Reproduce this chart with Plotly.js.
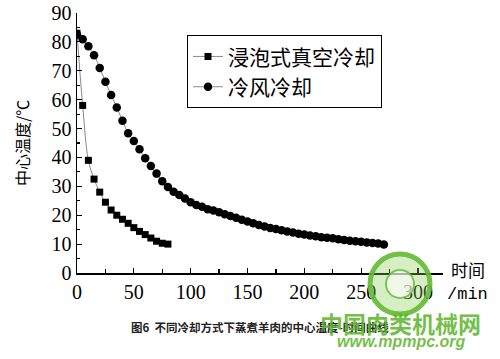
<!DOCTYPE html>
<html>
<head>
<meta charset="utf-8">
<script src="https://cdn.plot.ly/plotly-3.0.1.min.js"></script>
<style>html,body{margin:0;padding:0;background:#fff;}#chart{width:500px;height:359px;}</style>
</head>
<body>
<div id="chart"></div>
<script>
// Immersion vacuum cooling (squares)
const timeVacuum = [0,5,10,15,20,25,30,35,40,45,50,55,60,65,70,75,80];
const tempVacuum = [83,58,39,32.5,28,24.5,21.8,20,18.6,17.2,15.7,14.4,13.3,12.1,11,10.3,10];
// Cold air cooling (circles)
const timeAir = [0,5,10,15,20,25,30,35,40,45,50,55,60,65,70,75,80,85,90,95,100,105,110,115,120,125,130,135,140,145,150,155,160,165,170,175,180,185,190,195,200,205,210,215,220,225,230,235,240,245,250,255,260,265,270];
const tempAir = [82.5,80.9,78.5,75.4,71,66.2,61.6,57.3,52.7,48.4,45.7,42.8,39.7,37,34.4,31.8,29.8,28.1,27,25.8,24.5,23.5,22.9,22.1,21.6,21,20.3,19.7,19.1,18.4,17.8,17.2,16.6,16.1,15.6,15.2,14.8,14.4,14,13.6,13.3,13.0,12.7,12.4,12.2,12.0,11.7,11.4,11.2,11.0,10.8,10.6,10.4,10.2,9.9];
const seriesNames = ["浸泡式真空冷却", "冷风冷却"];
const xTicks = [0,50,100,150,200,250,300];
const yTicks = [0,10,20,30,40,50,60,70,80,90];

const cjk = '"Noto Sans CJK SC", sans-serif';
const serif = '"Liberation Serif", "Times New Roman", serif';

const traces = [
  {x: timeVacuum, y: tempVacuum, name: seriesNames[0], type: 'scatter', mode: 'lines+markers',
   line: {color: '#8a8a8a', width: 1, shape: 'spline'},
   marker: {symbol: 'square', size: 7, color: '#000'}},
  {x: timeAir, y: tempAir, name: seriesNames[1], type: 'scatter', mode: 'lines+markers',
   line: {color: '#8a8a8a', width: 1, shape: 'spline'},
   marker: {symbol: 'circle', size: 8.5, color: '#000'}}
];

const layout = {
  width: 500, height: 359,
  margin: {l: 77, r: 57, t: 13, b: 86},
  paper_bgcolor: '#fff', plot_bgcolor: '#fff',
  showlegend: true,
  legend: {x: 0.30, y: 0.915, xanchor: 'left', yanchor: 'top',
    bordercolor: '#000', borderwidth: 1.2, bgcolor: '#fff',
    font: {family: cjk, size: 21, color: '#000'},
    itemwidth: 30, tracegroupgap: 0},
  xaxis: {range: [0, 322], tickvals: xTicks, ticktext: xTicks.map(String),
    showgrid: false, zeroline: false, showline: true, linecolor: '#000', linewidth: 1.5,
    ticks: 'inside', ticklen: 5, tickwidth: 1.2, tickcolor: '#000',
    minor: {dtick: 25, ticks: 'inside', ticklen: 4, tickcolor: '#000', tickwidth: 1.2},
    tickfont: {family: serif, size: 20, color: '#000'}},
  yaxis: {range: [0, 90], tickvals: yTicks, ticktext: yTicks.map(String),
    showgrid: false, zeroline: false, showline: true, linecolor: '#000', linewidth: 1.5,
    ticks: 'inside', ticklen: 5, tickwidth: 1.2, tickcolor: '#000',
    minor: {dtick: 5, ticks: 'inside', ticklen: 3, tickcolor: '#000', tickwidth: 1.2},
    tickfont: {family: serif, size: 20, color: '#000'}},
  shapes: [
    {type: 'circle', xref: 'paper', yref: 'paper', x0: (370-77)/366, x1: (430-77)/366, y0: (273-314)/260, y1: (273-254)/260,
     fillcolor: 'rgba(140,205,90,0.35)', line: {color: 'rgba(100,185,50,0.9)', width: 5}},
    {type: 'circle', xref: 'paper', yref: 'paper', x0: (386-77)/366, x1: (414-77)/366, y0: (273-298)/260, y1: (273-270)/260,
     fillcolor: 'rgba(255,255,255,0.6)', line: {color: 'rgba(100,185,50,0.8)', width: 2}}
  ],
  annotations: [
    {text: '中心温度/℃', xref: 'paper', yref: 'paper', x: -0.150, y: 0.5, textangle: -90, showarrow: false,
     font: {family: cjk, size: 16, color: '#000'}, xanchor: 'center', yanchor: 'middle'},
    {text: '时间', xref: 'paper', yref: 'paper', x: 1.068, y: 0.012, showarrow: false,
     font: {family: cjk, size: 17, color: '#000'}, xanchor: 'center', yanchor: 'middle'},
    {text: '/min', xref: 'paper', yref: 'paper', x: 1.068, y: -0.081, showarrow: false,
     font: {family: '"Liberation Mono", monospace', size: 17, color: '#000'}, xanchor: 'center', yanchor: 'middle'},
    {text: '<b>图6  不同冷却方式下蒸煮羊肉的中心温度-时间曲线</b>', xref: 'paper', yref: 'paper', x: 0.5, y: -0.208, showarrow: false,
     font: {family: cjk, size: 11.5, color: '#222'}, xanchor: 'center', yanchor: 'middle'},
    {text: '<b>中国肉类机械网</b>', xref: 'paper', yref: 'paper', x: (400-77)/366, y: (273-323)/260, showarrow: false,
     font: {family: cjk, size: 23, color: 'rgba(90,180,40,0.85)'}, xanchor: 'center', yanchor: 'middle'},
    {text: '<b><i>www.mpmpc.org</i></b>', xref: 'paper', yref: 'paper', x: (401-77)/366, y: (273-341)/260, showarrow: false,
     font: {family: '"Liberation Sans", sans-serif', size: 16, color: 'rgba(90,180,40,0.85)'}, xanchor: 'center', yanchor: 'middle'}
  ]
};

Plotly.newPlot('chart', traces, layout, {displayModeBar: false, staticPlot: true});
</script>
</body>
</html>
